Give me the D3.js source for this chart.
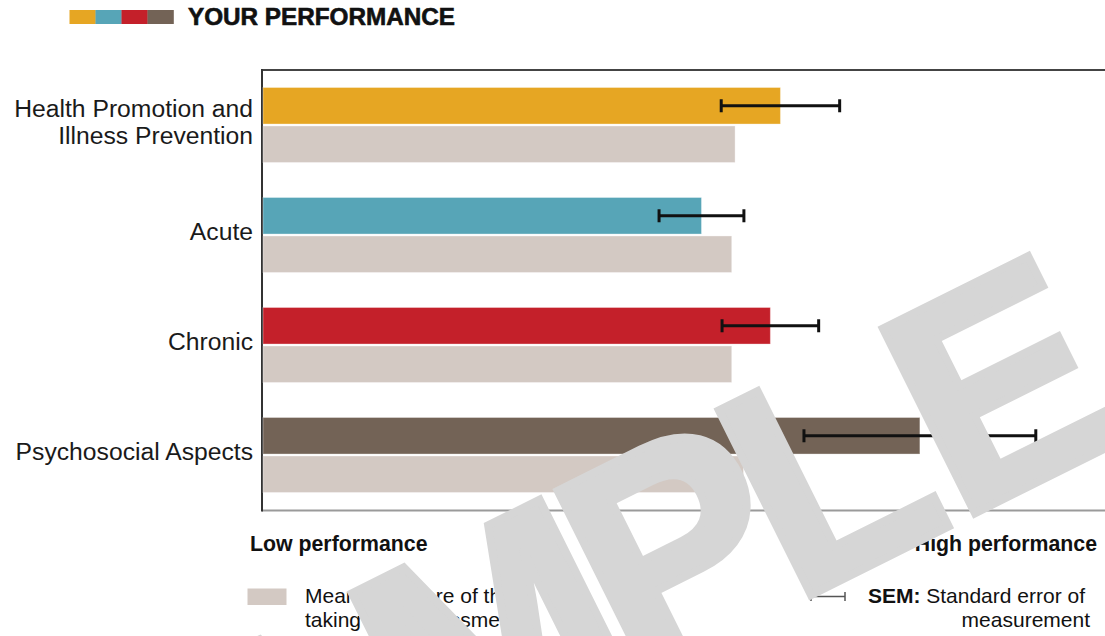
<!DOCTYPE html>
<html>
<head>
<meta charset="utf-8">
<script src="https://cdn.jsdelivr.net/npm/d3@7"></script>
<style>
  html, body { margin: 0; padding: 0; background: #fff; }
  svg { display: block; font-family: "Liberation Sans", Arial, Helvetica, sans-serif; }
</style>
</head>
<body>
<svg id="chart" width="1105" height="636"></svg>
<script>
// ---- data ----
const categories = ["Health Promotion and Illness Prevention", "Acute", "Chronic", "Psychosocial Aspects"];
const categoryLines = [["Health Promotion and", "Illness Prevention"], ["Acute"], ["Chronic"], ["Psychosocial Aspects"]];
const yourScores = [61.6, 52.2, 60.4, 78.2];
const meanScores = [56.2, 55.8, 55.8, 57.2];
const sem = [7.05, 5.05, 5.75, 13.8];
const seriesColors = ["#E6A623", "#57A5B7", "#C4202A", "#736356"];
const meanColor = "#D3C9C3";
const title = "YOUR PERFORMANCE";
const lowLabel = "Low performance";
const highLabel = "High performance";
const meanLegend = ["Mean test score of those", "taking this assessment"];
const semLegendBold = "SEM:";
const semLegend = ["Standard error of", "measurement"];
const watermark = "SAMPLE";

// ---- layout ----
const svg = d3.select("#chart");
const plot = { left: 263, right: 1103, top: 70, bottom: 510 };

const x = d3.scaleLinear().domain([0, 100]).range([plot.left, plot.right]);
const y = d3.scaleBand().domain(categories).range([plot.top, plot.bottom])
  .paddingInner(0.318).paddingOuter(0.159);
const ySub = d3.scaleBand().domain(["you", "mean"]).range([0, y.bandwidth()]).paddingInner(0.05);

// title
const tg = svg.append("g");
const sq = d3.scaleBand().domain(d3.range(seriesColors.length)).range([69.5, 173.5]);
tg.selectAll("rect").data(seriesColors).join("rect")
  .attr("x", (d, i) => sq(i)).attr("y", 10).attr("width", sq.bandwidth() + 0.3).attr("height", 14)
  .attr("fill", d => d);
tg.append("text").attr("x", 188).attr("y", 25).attr("font-size", 23.5).attr("font-weight", "bold")
  .attr("fill", "#111").attr("stroke", "#111").attr("stroke-width", 0.6)
  .attr("textLength", 267).attr("lengthAdjust", "spacingAndGlyphs").text(title);

// frame
svg.append("line").attr("x1", plot.left - 1).attr("x2", 1105).attr("y1", 70).attr("y2", 70)
  .attr("stroke", "#444").attr("stroke-width", 2);
svg.append("line").attr("x1", plot.left - 1).attr("x2", 1105).attr("y1", 510.5).attr("y2", 510.5)
  .attr("stroke", "#9a9a9a").attr("stroke-width", 2);
svg.append("line").attr("x1", plot.left - 1).attr("x2", plot.left - 1).attr("y1", 69).attr("y2", 511.5)
  .attr("stroke", "#333").attr("stroke-width", 2);

// bars
const groups = svg.append("g").selectAll("g").data(categories).join("g")
  .attr("transform", d => `translate(0,${y(d)})`);

groups.append("rect")
  .attr("x", x(0)).attr("y", ySub("you"))
  .attr("width", (d, i) => x(yourScores[i]) - x(0)).attr("height", ySub.bandwidth())
  .attr("fill", (d, i) => seriesColors[i]).attr("stroke", "rgba(255,255,255,0.35)").attr("stroke-width", 1);

groups.append("rect")
  .attr("x", x(0)).attr("y", ySub("mean"))
  .attr("width", (d, i) => x(meanScores[i]) - x(0)).attr("height", ySub.bandwidth())
  .attr("fill", meanColor).attr("stroke", "rgba(255,255,255,0.35)").attr("stroke-width", 1);

// error bars
const eb = groups.append("g").attr("stroke", "#111").attr("stroke-width", 3);
eb.append("line")
  .attr("x1", (d, i) => x(yourScores[i] - sem[i])).attr("x2", (d, i) => x(yourScores[i] + sem[i]))
  .attr("y1", ySub("you") + ySub.bandwidth() / 2).attr("y2", ySub("you") + ySub.bandwidth() / 2);
[-1, 1].forEach(s => {
  eb.append("line")
    .attr("x1", (d, i) => x(yourScores[i] + s * sem[i])).attr("x2", (d, i) => x(yourScores[i] + s * sem[i]))
    .attr("y1", ySub("you") + ySub.bandwidth() / 2 - 6.5).attr("y2", ySub("you") + ySub.bandwidth() / 2 + 6.5);
});

// category labels
const labelSize = 24.7;
svg.append("g").selectAll("text").data(categories).join("text")
  .attr("text-anchor", "end").attr("font-size", labelSize).attr("fill", "#1a1a1a")
  .each(function (d, i) {
    const lines = categoryLines[i];
    const cy = y(d) + y.bandwidth() / 2 - 3;
    const lh = 27;
    const t = d3.select(this);
    lines.forEach((ln, k) => {
      t.append("tspan").attr("x", 253)
        .attr("y", cy + (k - (lines.length - 1) / 2) * lh + 8)
        .text(ln);
    });
  });

// low / high
svg.append("text").attr("x", 250).attr("y", 551).attr("font-size", 21.3).attr("font-weight", "bold")
  .attr("fill", "#111").text(lowLabel);
svg.append("text").attr("x", 1097).attr("y", 551).attr("text-anchor", "end").attr("font-size", 21.3)
  .attr("font-weight", "bold").attr("fill", "#111").text(highLabel);

// legend: mean
svg.append("rect").attr("x", 247.5).attr("y", 588.5).attr("width", 39).attr("height", 16.5).attr("fill", meanColor);
const ml = svg.append("text").attr("font-size", 21).attr("fill", "#111");
meanLegend.forEach((ln, k) => ml.append("tspan").attr("x", 305).attr("y", 603 + k * 24).text(ln));

// legend: SEM
const sg = svg.append("g").attr("stroke", "#555").attr("stroke-width", 1.5);
sg.append("line").attr("x1", 811).attr("x2", 845).attr("y1", 596.5).attr("y2", 596.5);
sg.append("line").attr("x1", 811).attr("x2", 811).attr("y1", 592).attr("y2", 601);
sg.append("line").attr("x1", 845).attr("x2", 845).attr("y1", 592).attr("y2", 601);
const st = svg.append("text").attr("x", 1085).attr("y", 603).attr("text-anchor", "end")
  .attr("font-size", 21).attr("fill", "#111");
st.append("tspan").attr("font-weight", "bold").text(semLegendBold + " ");
st.append("tspan").text(semLegend[0]);
svg.append("text").attr("x", 1090).attr("y", 627).attr("text-anchor", "end")
  .attr("font-size", 21).attr("fill", "#111").text(semLegend[1]);

// watermark
const wg = svg.append("g").attr("transform", "translate(793,604) rotate(-26.5)");
const wt = wg.append("text").attr("font-size", 300).attr("font-weight", "bold")
  .attr("fill", "#d6d6d6").attr("stroke", "#d6d6d6").attr("stroke-width", 8).attr("stroke-linejoin", "miter")
  .attr("dx", "0 0 0 -20 -20 0")
  .text(watermark);
const lPos = wt.node().getStartPositionOfChar(4).x;
wt.attr("x", -lPos);
</script>
</body>
</html>
